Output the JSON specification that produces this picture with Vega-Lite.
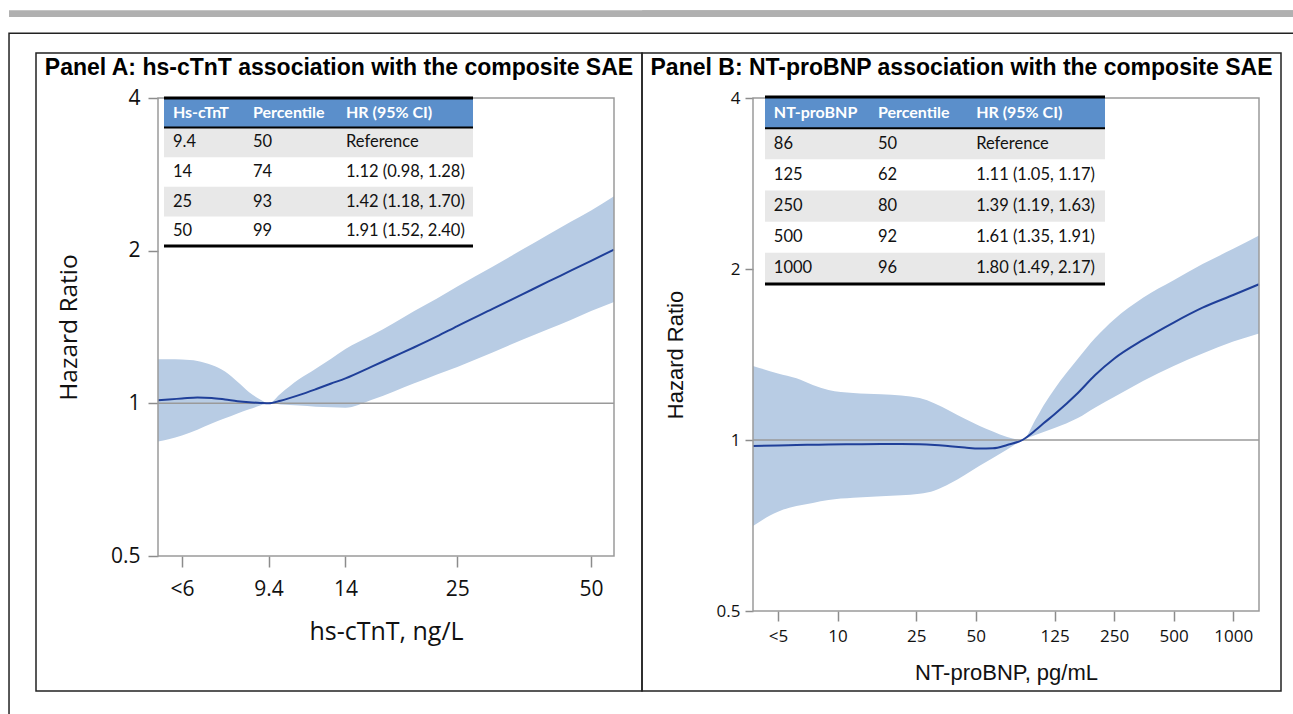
{
  "$schema": "https://vega.github.io/schema/vega-lite/v6.json",
  "padding": {"left": 7, "top": 9, "right": 0, "bottom": 0},
  "bounds": "flush",
  "spacing": 0,
  "background": "white",
  "config": {"view": {"stroke": "#222222", "strokeWidth": 1.5}, "axis": {"grid": false}},
  "datasets": {
    "a_curve": [
      {"v": 5.3, "hr": 1.014, "lo": 0.841, "hi": 1.222},
      {"v": 5.6, "hr": 1.018, "lo": 0.850, "hi": 1.222},
      {"v": 6, "hr": 1.022, "lo": 0.864, "hi": 1.220},
      {"v": 6.5, "hr": 1.027, "lo": 0.887, "hi": 1.212},
      {"v": 7, "hr": 1.025, "lo": 0.912, "hi": 1.190},
      {"v": 7.5, "hr": 1.018, "lo": 0.934, "hi": 1.155},
      {"v": 8, "hr": 1.010, "lo": 0.955, "hi": 1.103},
      {"v": 8.5, "hr": 1.005, "lo": 0.973, "hi": 1.052},
      {"v": 9, "hr": 1.002, "lo": 0.990, "hi": 1.018},
      {"v": 9.4, "hr": 1.0, "lo": 1.0, "hi": 1.0},
      {"v": 10, "hr": 1.012, "lo": 0.995, "hi": 1.045},
      {"v": 11, "hr": 1.038, "lo": 0.990, "hi": 1.115},
      {"v": 12, "hr": 1.066, "lo": 0.985, "hi": 1.170},
      {"v": 13, "hr": 1.094, "lo": 0.982, "hi": 1.225},
      {"v": 14, "hr": 1.120, "lo": 0.980, "hi": 1.280},
      {"v": 16, "hr": 1.180, "lo": 1.015, "hi": 1.360},
      {"v": 18, "hr": 1.237, "lo": 1.055, "hi": 1.440},
      {"v": 20, "hr": 1.290, "lo": 1.095, "hi": 1.520},
      {"v": 22.5, "hr": 1.355, "lo": 1.140, "hi": 1.610},
      {"v": 25, "hr": 1.420, "lo": 1.180, "hi": 1.700},
      {"v": 30, "hr": 1.535, "lo": 1.260, "hi": 1.860},
      {"v": 35, "hr": 1.640, "lo": 1.335, "hi": 2.010},
      {"v": 40, "hr": 1.737, "lo": 1.400, "hi": 2.150},
      {"v": 45, "hr": 1.826, "lo": 1.460, "hi": 2.280},
      {"v": 50, "hr": 1.910, "lo": 1.520, "hi": 2.400},
      {"v": 56.3, "hr": 2.010, "lo": 1.585, "hi": 2.560}
    ],
    "b_curve": [
      {"v": 3.74, "hr": 0.976, "lo": 0.706, "hi": 1.350},
      {"v": 5, "hr": 0.978, "lo": 0.748, "hi": 1.310},
      {"v": 6.2, "hr": 0.980, "lo": 0.765, "hi": 1.284},
      {"v": 7.5, "hr": 0.981, "lo": 0.775, "hi": 1.250},
      {"v": 9, "hr": 0.982, "lo": 0.784, "hi": 1.225},
      {"v": 12, "hr": 0.983, "lo": 0.791, "hi": 1.210},
      {"v": 16.6, "hr": 0.984, "lo": 0.796, "hi": 1.204},
      {"v": 21, "hr": 0.984, "lo": 0.799, "hi": 1.198},
      {"v": 26, "hr": 0.983, "lo": 0.804, "hi": 1.185},
      {"v": 31, "hr": 0.980, "lo": 0.815, "hi": 1.160},
      {"v": 37, "hr": 0.975, "lo": 0.838, "hi": 1.125},
      {"v": 44, "hr": 0.970, "lo": 0.868, "hi": 1.090},
      {"v": 52, "hr": 0.966, "lo": 0.900, "hi": 1.060},
      {"v": 61, "hr": 0.967, "lo": 0.930, "hi": 1.035},
      {"v": 72, "hr": 0.980, "lo": 0.962, "hi": 1.012},
      {"v": 86, "hr": 1.0, "lo": 1.0, "hi": 1.0},
      {"v": 100, "hr": 1.04, "lo": 1.02, "hi": 1.085},
      {"v": 110, "hr": 1.07, "lo": 1.033, "hi": 1.15},
      {"v": 125, "hr": 1.11, "lo": 1.05, "hi": 1.23},
      {"v": 164, "hr": 1.21, "lo": 1.093, "hi": 1.39},
      {"v": 200, "hr": 1.30, "lo": 1.14, "hi": 1.51},
      {"v": 250, "hr": 1.39, "lo": 1.19, "hi": 1.63},
      {"v": 350, "hr": 1.50, "lo": 1.27, "hi": 1.78},
      {"v": 500, "hr": 1.61, "lo": 1.35, "hi": 1.91},
      {"v": 700, "hr": 1.71, "lo": 1.42, "hi": 2.04},
      {"v": 1000, "hr": 1.80, "lo": 1.49, "hi": 2.17},
      {"v": 1350, "hr": 1.88, "lo": 1.54, "hi": 2.29}
    ],
    "a_table": [
      {"i": 0, "c1": "Hs-cTnT", "c2": "Percentile", "c3": "HR (95% CI)"},
      {"i": 1, "c1": "9.4", "c2": "50", "c3": "Reference"},
      {"i": 2, "c1": "14", "c2": "74", "c3": "1.12 (0.98, 1.28)"},
      {"i": 3, "c1": "25", "c2": "93", "c3": "1.42 (1.18, 1.70)"},
      {"i": 4, "c1": "50", "c2": "99", "c3": "1.91 (1.52, 2.40)"}
    ],
    "b_table": [
      {"i": 0, "c1": "NT-proBNP", "c2": "Percentile", "c3": "HR (95% CI)"},
      {"i": 1, "c1": "86", "c2": "50", "c3": "Reference"},
      {"i": 2, "c1": "125", "c2": "62", "c3": "1.11 (1.05, 1.17)"},
      {"i": 3, "c1": "250", "c2": "80", "c3": "1.39 (1.19, 1.63)"},
      {"i": 4, "c1": "500", "c2": "92", "c3": "1.61 (1.35, 1.91)"},
      {"i": 5, "c1": "1000", "c2": "96", "c3": "1.80 (1.49, 2.17)"}
    ]
  },
  "hconcat": [
    {
      "width": 606,
      "height": 638,
      "title": {"text": "Panel A: hs-cTnT association with the composite SAE", "font": "Liberation Sans", "fontSize": 23, "fontWeight": "bold", "color": "#000000", "anchor": "middle", "offset": -70},
      "layer": [
        {
          "data": {"name": "a_curve"},
          "layer": [
            {
              "mark": {"type": "area", "color": "#b8cce4", "opacity": 1, "interpolate": "monotone"},
              "encoding": {
                "x": {"field": "v", "type": "quantitative",
                  "scale": {"type": "log", "domain": [5.3, 56.3], "range": [122, 578], "nice": false},
                  "axis": {"values": [6, 9.4, 14, 25, 50], "labelExpr": "datum.value == 6 ? '<6' : format(datum.value, '~g')", "offset": -135, "domain": false, "tickSize": 11, "tickColor": "#8c8c8c", "tickWidth": 1.5, "labelFont": "Open Sans", "labelFontSize": 21, "labelColor": "#111111", "labelPadding": 11, "title": "hs-cTnT, ng/L", "titleFont": "Open Sans", "titleFontSize": 25, "titleFontWeight": "normal", "titleColor": "#111111", "titlePadding": 20}},
                "y": {"field": "lo", "type": "quantitative",
                  "scale": {"type": "log", "domain": [0.5, 4], "range": [503, 45], "nice": false},
                  "axis": {"values": [0.5, 1, 2, 4], "labelExpr": "format(datum.value, '~g')", "offset": -122, "domain": false, "tickSize": 10, "tickColor": "#8c8c8c", "tickWidth": 1.5, "labelFont": "Open Sans", "labelFontSize": 21, "labelColor": "#111111", "labelPadding": 8, "title": "Hazard Ratio", "titleFont": "Open Sans", "titleFontSize": 24.5, "titleFontWeight": "normal", "titleColor": "#111111", "titlePadding": 29}},
                "y2": {"field": "hi"}
              }
            },
            {
              "data": {"values": [{}]},
              "mark": {"type": "rule", "color": "#9a9a9a", "strokeWidth": 1.5},
              "encoding": {"x": {"datum": 5.3}, "x2": {"datum": 56.3}, "y": {"datum": 1}}
            },
            {
              "mark": {"type": "line", "color": "#1f3f99", "strokeWidth": 2, "interpolate": "monotone"},
              "encoding": {"x": {"field": "v", "type": "quantitative"}, "y": {"field": "hr", "type": "quantitative"}}
            },
            {
              "data": {"values": [{}]},
              "mark": {"type": "rect", "fillOpacity": 0, "stroke": "#9a9a9a", "strokeWidth": 1.5},
              "encoding": {"x": {"datum": 5.3}, "x2": {"datum": 56.3}, "y": {"datum": 0.5}, "y2": {"datum": 4}}
            },
            {
              "data": {"values": [{}]},
              "mark": {"type": "rect", "color": "#b0b0b0", "clip": false},
              "encoding": {"x": {"datum": 2.449}, "x2": {"datum": 2000}, "y": {"datum": 5.96}, "y2": {"datum": 5.78}}
            },
            {
              "data": {"values": [{}]},
              "mark": {"type": "rect", "fillOpacity": 0, "stroke": "#222222", "strokeWidth": 1.5, "clip": false},
              "encoding": {"x": {"datum": 2.449}, "x2": {"datum": 2000}, "y": {"datum": 5.37}, "y2": {"datum": 0.236}}
            }
          ]
        },
        {
          "data": {"name": "a_table"},
          "encoding": {
            "y": {"field": "i", "type": "ordinal", "scale": {"domain": [0, 1, 2, 3, 4], "range": [45, 193], "paddingInner": 0, "paddingOuter": 0}, "axis": null}
          },
          "layer": [
            {"transform": [{"filter": "datum.i % 2 == 1"}], "mark": {"type": "rect", "color": "#e8e8e8"},
             "encoding": {"x": {"datum": 0, "type": "quantitative", "scale": {"domain": [0, 1], "range": [128, 437], "nice": false, "zero": false}, "axis": null}, "x2": {"datum": 1}}},
            {"transform": [{"filter": "datum.i == 0"}], "mark": {"type": "rect", "color": "#5b8fcb"},
             "encoding": {"x": {"datum": 0, "type": "quantitative"}, "x2": {"datum": 1}}},
            {"transform": [{"filter": "datum.i == 0"}], "mark": {"type": "rule", "color": "#000000", "strokeWidth": 3},
             "encoding": {"x": {"datum": 0, "type": "quantitative"}, "x2": {"datum": 1}, "y": {"field": "i", "type": "ordinal", "bandPosition": 0}}},
            {"transform": [{"filter": "datum.i == 0"}], "mark": {"type": "rule", "color": "#000000", "strokeWidth": 2},
             "encoding": {"x": {"datum": 0, "type": "quantitative"}, "x2": {"datum": 1}, "y": {"field": "i", "type": "ordinal", "bandPosition": 1}}},
            {"transform": [{"filter": "datum.i == 4"}], "mark": {"type": "rule", "color": "#000000", "strokeWidth": 3},
             "encoding": {"x": {"datum": 0, "type": "quantitative"}, "x2": {"datum": 1}, "y": {"field": "i", "type": "ordinal", "bandPosition": 1}}},
            {"transform": [{"filter": "datum.i == 0"}], "mark": {"type": "text", "align": "left", "baseline": "middle", "font": "Lato", "fontSize": 16, "fontWeight": "bold", "color": "#ffffff"},
             "encoding": {"x": {"datum": 0.029, "type": "quantitative"}, "text": {"field": "c1"}}},
            {"transform": [{"filter": "datum.i == 0"}], "mark": {"type": "text", "align": "left", "baseline": "middle", "font": "Lato", "fontSize": 16, "fontWeight": "bold", "color": "#ffffff"},
             "encoding": {"x": {"datum": 0.288, "type": "quantitative"}, "text": {"field": "c2"}}},
            {"transform": [{"filter": "datum.i == 0"}], "mark": {"type": "text", "align": "left", "baseline": "middle", "font": "Lato", "fontSize": 16, "fontWeight": "bold", "color": "#ffffff"},
             "encoding": {"x": {"datum": 0.589, "type": "quantitative"}, "text": {"field": "c3"}}},
            {"transform": [{"filter": "datum.i > 0"}], "mark": {"type": "text", "align": "left", "baseline": "middle", "font": "Lato", "fontSize": 16.5, "color": "#111111"},
             "encoding": {"x": {"datum": 0.029, "type": "quantitative"}, "text": {"field": "c1"}}},
            {"transform": [{"filter": "datum.i > 0"}], "mark": {"type": "text", "align": "left", "baseline": "middle", "font": "Lato", "fontSize": 16.5, "color": "#111111"},
             "encoding": {"x": {"datum": 0.288, "type": "quantitative"}, "text": {"field": "c2"}}},
            {"transform": [{"filter": "datum.i > 0"}], "mark": {"type": "text", "align": "left", "baseline": "middle", "font": "Lato", "fontSize": 16.5, "color": "#111111"},
             "encoding": {"x": {"datum": 0.589, "type": "quantitative"}, "text": {"field": "c3"}}}
          ]
        }
      ],
      "resolve": {"scale": {"x": "independent", "y": "independent"}}
    },
    {
      "width": 639,
      "height": 638,
      "title": {"text": "Panel B: NT-proBNP association with the composite SAE", "font": "Liberation Sans", "fontSize": 23, "fontWeight": "bold", "color": "#000000", "anchor": "middle", "offset": -70},
      "layer": [
        {
          "data": {"name": "b_curve"},
          "layer": [
            {
              "mark": {"type": "area", "color": "#b8cce4", "opacity": 1, "interpolate": "monotone"},
              "encoding": {
                "x": {"field": "v", "type": "quantitative",
                  "scale": {"type": "log", "domain": [3.74, 1350], "range": [111, 617], "nice": false},
                  "axis": {"values": [5, 10, 25, 50, 125, 250, 500, 1000], "labelExpr": "datum.value == 5 ? '<5' : format(datum.value, '~g')", "offset": -80, "domain": false, "tickSize": 10, "tickColor": "#8c8c8c", "tickWidth": 1.5, "labelFont": "Open Sans", "labelFontSize": 17, "labelColor": "#111111", "labelPadding": 7, "title": "NT-proBNP, pg/mL", "titleFont": "Liberation Sans", "titleFontSize": 22, "titleFontWeight": "normal", "titleColor": "#111111", "titlePadding": 18}},
                "y": {"field": "lo", "type": "quantitative",
                  "scale": {"type": "log", "domain": [0.5, 4], "range": [558, 45], "nice": false},
                  "axis": {"values": [0.5, 1, 2, 4], "labelExpr": "format(datum.value, '~g')", "offset": -111, "domain": false, "tickSize": 8, "tickColor": "#8c8c8c", "tickWidth": 1.5, "labelFont": "Open Sans", "labelFontSize": 17, "labelColor": "#111111", "labelPadding": 5, "title": "Hazard Ratio", "titleFont": "Liberation Sans", "titleFontSize": 22, "titleFontWeight": "normal", "titleColor": "#111111", "titlePadding": 29}},
                "y2": {"field": "hi"}
              }
            },
            {
              "data": {"values": [{}]},
              "mark": {"type": "rule", "color": "#9a9a9a", "strokeWidth": 1.5},
              "encoding": {"x": {"datum": 3.74}, "x2": {"datum": 1350}, "y": {"datum": 1}}
            },
            {
              "mark": {"type": "line", "color": "#1f3f99", "strokeWidth": 2, "interpolate": "monotone"},
              "encoding": {"x": {"field": "v", "type": "quantitative"}, "y": {"field": "hr", "type": "quantitative"}}
            },
            {
              "data": {"values": [{}]},
              "mark": {"type": "rect", "fillOpacity": 0, "stroke": "#9a9a9a", "strokeWidth": 1.5},
              "encoding": {"x": {"datum": 3.74}, "x2": {"datum": 1350}, "y": {"datum": 0.5}, "y2": {"datum": 4}}
            },
            {
              "data": {"values": [{}]},
              "mark": {"type": "rect", "color": "#b0b0b0", "clip": false},
              "encoding": {"x": {"datum": 1.03}, "x2": {"datum": 2200}, "y": {"datum": 5.71}, "y2": {"datum": 5.58}}
            }
          ]
        },
        {
          "data": {"name": "b_table"},
          "encoding": {
            "y": {"field": "i", "type": "ordinal", "scale": {"domain": [0, 1, 2, 3, 4, 5], "range": [44, 231], "paddingInner": 0, "paddingOuter": 0}, "axis": null}
          },
          "layer": [
            {"transform": [{"filter": "datum.i % 2 == 1"}], "mark": {"type": "rect", "color": "#e8e8e8"},
             "encoding": {"x": {"datum": 0, "type": "quantitative", "scale": {"domain": [0, 1], "range": [123, 463], "nice": false, "zero": false}, "axis": null}, "x2": {"datum": 1}}},
            {"transform": [{"filter": "datum.i == 0"}], "mark": {"type": "rect", "color": "#5b8fcb"},
             "encoding": {"x": {"datum": 0, "type": "quantitative"}, "x2": {"datum": 1}}},
            {"transform": [{"filter": "datum.i == 0"}], "mark": {"type": "rule", "color": "#000000", "strokeWidth": 3},
             "encoding": {"x": {"datum": 0, "type": "quantitative"}, "x2": {"datum": 1}, "y": {"field": "i", "type": "ordinal", "bandPosition": 0}}},
            {"transform": [{"filter": "datum.i == 0"}], "mark": {"type": "rule", "color": "#000000", "strokeWidth": 2},
             "encoding": {"x": {"datum": 0, "type": "quantitative"}, "x2": {"datum": 1}, "y": {"field": "i", "type": "ordinal", "bandPosition": 1}}},
            {"transform": [{"filter": "datum.i == 5"}], "mark": {"type": "rule", "color": "#000000", "strokeWidth": 3},
             "encoding": {"x": {"datum": 0, "type": "quantitative"}, "x2": {"datum": 1}, "y": {"field": "i", "type": "ordinal", "bandPosition": 1}}},
            {"transform": [{"filter": "datum.i == 0"}], "mark": {"type": "text", "align": "left", "baseline": "middle", "font": "Lato", "fontSize": 16, "fontWeight": "bold", "color": "#ffffff"},
             "encoding": {"x": {"datum": 0.026, "type": "quantitative"}, "text": {"field": "c1"}}},
            {"transform": [{"filter": "datum.i == 0"}], "mark": {"type": "text", "align": "left", "baseline": "middle", "font": "Lato", "fontSize": 16, "fontWeight": "bold", "color": "#ffffff"},
             "encoding": {"x": {"datum": 0.332, "type": "quantitative"}, "text": {"field": "c2"}}},
            {"transform": [{"filter": "datum.i == 0"}], "mark": {"type": "text", "align": "left", "baseline": "middle", "font": "Lato", "fontSize": 16, "fontWeight": "bold", "color": "#ffffff"},
             "encoding": {"x": {"datum": 0.621, "type": "quantitative"}, "text": {"field": "c3"}}},
            {"transform": [{"filter": "datum.i > 0"}], "mark": {"type": "text", "align": "left", "baseline": "middle", "font": "Lato", "fontSize": 16.5, "color": "#111111"},
             "encoding": {"x": {"datum": 0.026, "type": "quantitative"}, "text": {"field": "c1"}}},
            {"transform": [{"filter": "datum.i > 0"}], "mark": {"type": "text", "align": "left", "baseline": "middle", "font": "Lato", "fontSize": 16.5, "color": "#111111"},
             "encoding": {"x": {"datum": 0.332, "type": "quantitative"}, "text": {"field": "c2"}}},
            {"transform": [{"filter": "datum.i > 0"}], "mark": {"type": "text", "align": "left", "baseline": "middle", "font": "Lato", "fontSize": 16.5, "color": "#111111"},
             "encoding": {"x": {"datum": 0.621, "type": "quantitative"}, "text": {"field": "c3"}}}
          ]
        }
      ],
      "resolve": {"scale": {"x": "independent", "y": "independent"}}
    }
  ]
}
